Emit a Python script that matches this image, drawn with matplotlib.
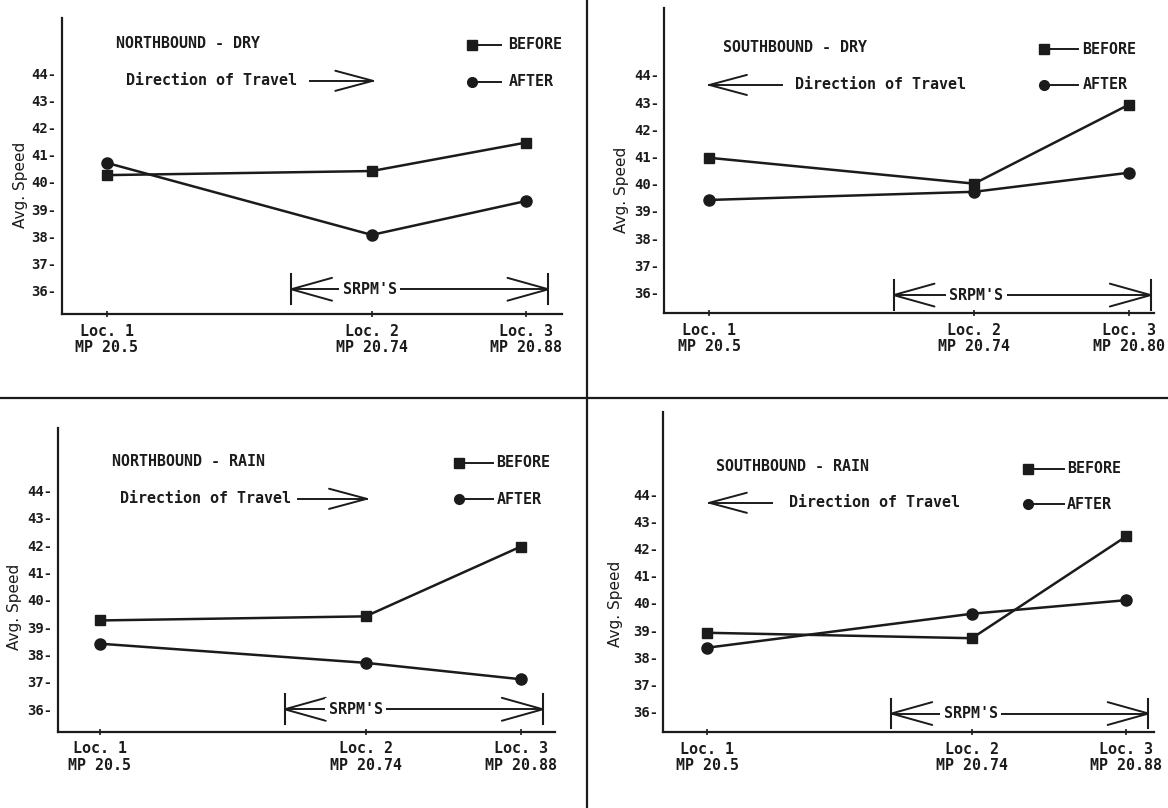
import matplotlib
matplotlib.use("Agg")
import matplotlib.pyplot as plt
from matplotlib.lines import Line2D

# ---------------- data ----------------
mileposts = [20.5, 20.74, 20.88]
loc_names = ["Loc. 1", "Loc. 2", "Loc. 3"]
mp_labels = ["MP 20.5", "MP 20.74", "MP 20.88"]
mp_labels_sb_dry = ["MP 20.5", "MP 20.74", "MP 20.80"]
y_ticks = [36, 37, 38, 39, 40, 41, 42, 43, 44]

nb_dry_before = [40.25, 40.4, 41.45]
nb_dry_after = [40.7, 38.05, 39.3]
sb_dry_before = [40.95, 40.0, 42.9]
sb_dry_after = [39.4, 39.7, 40.4]
nb_rain_before = [39.25, 39.4, 41.95]
nb_rain_after = [38.4, 37.7, 37.1]
sb_rain_before = [38.9, 38.7, 42.45]
sb_rain_after = [38.35, 39.6, 40.1]

titles = ["NORTHBOUND - DRY", "SOUTHBOUND - DRY", "NORTHBOUND - RAIN", "SOUTHBOUND - RAIN"]
srpm_span = (20.667, 20.90)

# ---------------- layout ----------------
W, H = 1168, 808
INK = "#1b1b1b"
MONO = "DejaVu Sans Mono"

panels = [
    dict(rect=(61.6, 18.3, 561.6, 314), xlim=(20.459, 20.912), ylim=(35.14, 46.02),
         before=nb_dry_before, after=nb_dry_after, mp=mp_labels, dir=1,
         title=(20.508, 45.1), dtext=(20.517, 43.72), arrow=(20.684, 20.741),
         leg=(20.831, 20.857, 20.864, 45.04, 43.69), srpm=(36.05, 20.738), ylab=(-0.082, 0.436)),
    dict(rect=(664.2, 8.3, 1154, 313.3), xlim=(20.459, 20.903), ylim=(35.23, 46.45),
         before=sb_dry_before, after=sb_dry_after, mp=mp_labels_sb_dry, dir=-1,
         title=(20.512, 45.02), dtext=(20.578, 43.63), arrow=(20.566, 20.5),
         leg=(20.803, 20.834, 20.838, 44.95, 43.63), srpm=(35.9, 20.742), ylab=(-0.088, 0.404)),
    dict(rect=(57.7, 428.3, 555, 731.7), xlim=(20.462, 20.911), ylim=(35.18, 46.28),
         before=nb_rain_before, after=nb_rain_after, mp=mp_labels, dir=1,
         title=(20.511, 45.06), dtext=(20.518, 43.70), arrow=(20.679, 20.741),
         leg=(20.824, 20.855, 20.858, 45.02, 43.68), srpm=(36.0, 20.731), ylab=(-0.086, 0.412)),
    dict(rect=(663, 411.7, 1154, 732.3), xlim=(20.460, 20.905), ylim=(35.24, 47.03),
         before=sb_rain_before, after=sb_rain_after, mp=mp_labels, dir=-1,
         title=(20.508, 45.03), dtext=(20.574, 43.68), arrow=(20.559, 20.502),
         leg=(20.791, 20.823, 20.826, 44.94, 43.63), srpm=(35.93, 20.739), ylab=(-0.096, 0.402)),
]

fig = plt.figure(figsize=(W / 100, H / 100), dpi=100)
fig.patch.set_facecolor("white")


def chevron(ax, hx, y, d, L, w, lw=1.4):
    ax.plot([hx - d * L, hx, hx - d * L], [y + w, y, y - w], color=INK, lw=lw,
            solid_capstyle="round", solid_joinstyle="miter", clip_on=False)


for i, p in enumerate(panels):
    l, t, r, b = p["rect"]
    ax = fig.add_axes([l / W, 1 - b / H, (r - l) / W, (b - t) / H])
    ax.set_xlim(*p["xlim"])
    ax.set_ylim(*p["ylim"])
    for s in ["top", "right"]:
        ax.spines[s].set_visible(False)
    for s in ["left", "bottom"]:
        ax.spines[s].set_linewidth(1.6)
        ax.spines[s].set_color(INK)

    # data
    ax.plot(mileposts, p["before"], color=INK, lw=1.8, marker="s", ms=7.5, zorder=3)
    ax.plot(mileposts, p["after"], color=INK, lw=1.8, marker="o", ms=8, zorder=3)

    # ticks
    ax.set_yticks(y_ticks)
    ax.set_yticklabels([f"{v}-" for v in y_ticks], fontfamily=MONO, fontweight="bold",
                       fontsize=10, color=INK)
    ax.tick_params(axis="y", length=0, pad=3.6)
    ax.set_xticks(mileposts)
    ax.set_xticklabels([f"{a}\n{m}" for a, m in zip(loc_names, p["mp"])],
                       fontfamily=MONO, fontweight="bold", fontsize=10.8, color=INK,
                       linespacing=1.1)
    ax.tick_params(axis="x", length=5, width=1.2, direction="inout", pad=4.5, color=INK)
    ax.set_ylabel("Avg. Speed", fontsize=11, color=INK, fontfamily="DejaVu Sans",
                  va="center", ha="center")
    ax.yaxis.set_label_coords(*p["ylab"])

    txt = dict(fontfamily=MONO, fontweight="bold", fontsize=10.8, color=INK, va="center")
    # title
    ax.text(p["title"][0], p["title"][1], titles[i], ha="left", **txt)
    # direction of travel
    ax.text(p["dtext"][0], p["dtext"][1], "Direction of Travel", ha="left", **txt)
    a0, a1 = p["arrow"]
    ay = p["dtext"][1]
    ax.plot([a0, a1], [ay, ay], color=INK, lw=1.4, clip_on=False)
    chevron(ax, a1, ay, p["dir"], 0.034, 0.37)

    # legend keys
    mx, lx, tx, yb, ya = p["leg"]
    ax.plot([mx, lx], [yb, yb], color=INK, lw=1.4)
    ax.plot([mx], [yb], marker="s", color=INK, ms=6.5)
    ax.text(tx, yb, "BEFORE", ha="left", **txt)
    ax.plot([mx, lx], [ya, ya], color=INK, lw=1.4)
    ax.plot([mx], [ya], marker="o", color=INK, ms=7)
    ax.text(tx, ya, "AFTER", ha="left", **txt)

    # SRPM span
    sy, sx = p["srpm"]
    x0, x1 = srpm_span
    ax.plot([x0, x1], [sy, sy], color=INK, lw=1.4, clip_on=False)
    for xb in (x0, x1):
        ax.plot([xb, xb], [sy - 0.55, sy + 0.55], color=INK, lw=1.5, clip_on=False)
    chevron(ax, x0, sy, -1, 0.037, 0.42)
    chevron(ax, x1, sy, 1, 0.037, 0.42)
    ax.text(sx, sy, "SRPM'S", ha="center", zorder=4,
            bbox=dict(facecolor="white", edgecolor="none", pad=2.5), **txt)

# quadrant dividers
fig.add_artist(Line2D([587 / W, 587 / W], [0, 1], color=INK, lw=1.6))
fig.add_artist(Line2D([0, 1], [1 - 398 / H, 1 - 398 / H], color=INK, lw=1.6))

fig.savefig("out.png", dpi=100, facecolor="white")
